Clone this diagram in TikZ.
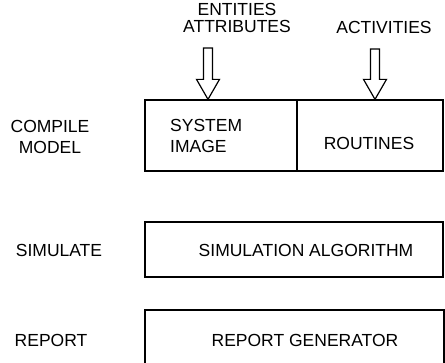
\documentclass[tikz,border=0pt]{standalone}
\usepackage{fontspec}
\setmainfont{Liberation Sans}
\usetikzlibrary{calc}
\tikzset{
  box/.style={draw=black, line width=1.3pt, rectangle, inner sep=0pt},
  txt/.style={inner sep=0pt, font=\fontsize{17.5}{21}\selectfont},
  hollow/.style={draw=black, line width=1.2pt, line join=miter}
}
% open block arrow from #1 down to #2
\newcommand{\hollowarrow}[2]{%
  \draw[hollow] ($(#1)+(-4.5,0)$) -- ($(#2)+(-4.5,-20)$) -- ($(#2)+(-11.5,-20)$)
    -- (#2) -- ($(#2)+(11.5,-20)$) -- ($(#2)+(4.5,-20)$) -- ($(#1)+(4.5,0)$) -- cycle;}

\begin{document}
\begin{tikzpicture}[x=1pt, y=-1pt]
    \useasboundingbox (0,0) rectangle (445,362);
    % boxes
    \node[box, minimum width=152pt, minimum height=71pt] (sysbox) at (221,135.5) {};
    \node[box, minimum width=146pt, minimum height=71pt] (routbox) at (370,135.5) {};
    \node[box, minimum width=298pt, minimum height=55pt] (simbox) at (294,249.5) {};
    \node[box, minimum width=299pt, minimum height=60pt] (repbox) at (294.5,340) {};
    % inputs
    \node[txt, align=center, font=\fontsize{17.5}{17.5}\selectfont] (ents) at (237,18) {ENTITIES\\ATTRIBUTES};
    \node[txt] (acts) at (384,27) {ACTIVITIES};
    \coordinate (ea) at (208,48);
    \coordinate (aa) at (375,49);
    \hollowarrow{ea}{ea |- sysbox.north}
    \hollowarrow{aa}{aa |- routbox.north}
    % phases
    \node[txt, align=center] (compile) at (50,136.5) {COMPILE\\MODEL};
    \node[txt] (simulate) at (59,250) {SIMULATE};
    \node[txt] (report) at (51,340) {REPORT};
    % box contents
    \node[txt, align=left, anchor=west] (sysimg) at (170,136) {SYSTEM\\IMAGE};
    \node[txt] (routines) at (369,143.5) {ROUTINES};
    \node[txt] (simalg) at (306,250) {SIMULATION ALGORITHM};
    \node[txt] (repgen) at (305,340) {REPORT GENERATOR};
\end{tikzpicture}
\end{document}
